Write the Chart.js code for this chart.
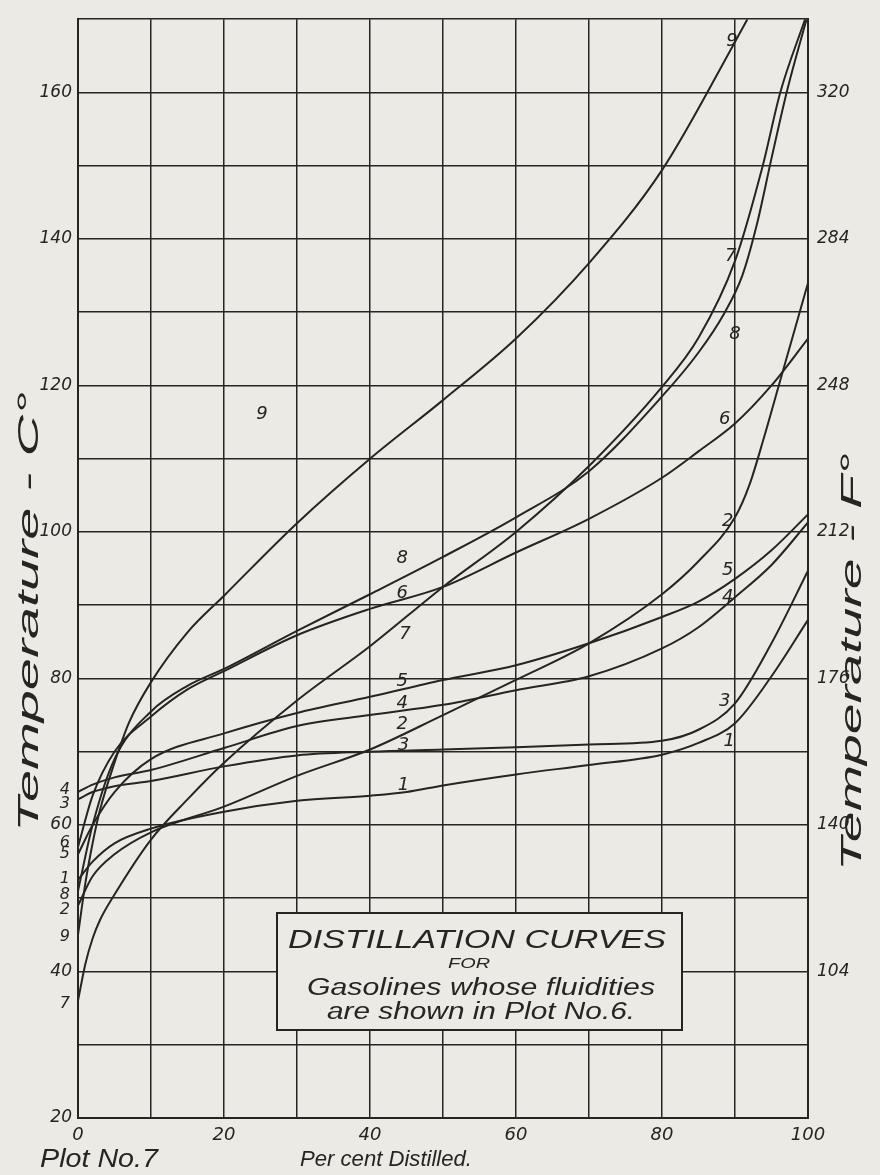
<!DOCTYPE html>
<html>
<head>
<meta charset="utf-8">
<script src="https://cdn.jsdelivr.net/npm/chart.js@4.4.1/dist/chart.umd.min.js"></script>
<style>
  html, body { margin: 0; padding: 0; background: #ebeae4; }
  #wrap { width: 880px; height: 1175px; }
</style>
</head>
<body>
<div id="wrap"><canvas id="chart1" width="880" height="1175"></canvas></div>
<script>
/************* Data *************/
const pct1 = [0, 2, 5, 10, 20, 30, 40, 45, 50, 60, 70, 80, 85, 90, 95, 100];
const temp1 = [52.5, 55, 57.5, 59.5, 61.8, 63.3, 64, 64.5, 65.4, 66.9, 68.2, 69.6, 71.2, 73.9, 80.3, 88];

const pct2 = [0, 2, 5, 10, 20, 30, 40, 50, 60, 70, 80, 85, 90, 92, 94, 96, 98, 100];
const temp2 = [49, 53, 56, 59, 62.5, 66.7, 70.3, 75, 79.8, 84.8, 91.5, 96, 102, 106.5, 113, 120, 127, 134];

const pct3 = [0, 2, 5, 10, 20, 30, 40, 50, 60, 70, 80, 85, 90, 95, 100];
const temp3 = [63.5, 64.5, 65.3, 66, 68, 69.5, 70, 70.3, 70.6, 71, 71.5, 73, 76.6, 84.8, 94.7];

const pct4 = [0, 2, 5, 10, 20, 30, 40, 50, 60, 70, 80, 85, 90, 95, 100];
const temp4 = [64.5, 65.5, 66.5, 67.5, 70.5, 73.5, 75, 76.4, 78.4, 80.3, 84.1, 87, 91.1, 95.5, 101.3];

const pct5 = [0, 2, 5, 10, 20, 30, 40, 50, 60, 70, 80, 85, 90, 95, 100];
const temp5 = [56, 60, 64.5, 69, 72.5, 75.3, 77.5, 79.8, 81.8, 84.8, 88.4, 90.5, 93.6, 97.5, 102.4];

const pct6 = [0, 2, 5, 10, 15, 20, 30, 40, 50, 60, 70, 80, 85, 90, 95, 100];
const temp6 = [57, 64, 70, 74.8, 78.5, 81, 85.9, 89.5, 92.5, 97.2, 101.8, 107.4, 111, 114.8, 120, 126.4];

const pct7 = [0, 1, 2, 3, 5, 10, 15, 20, 30, 40, 50, 60, 70, 80, 85, 90, 93.8, 96.2, 99.6];
const temp7 = [36, 41, 44.5, 47, 50.5, 58, 63.5, 68.5, 77, 84.4, 92.5, 100, 109, 119.8, 126.5, 137, 150, 160, 170];

const pct8 = [0, 2, 5, 10, 15, 20, 30, 40, 50, 60, 70, 80, 85, 88.5, 91, 93, 95, 97.2, 99.8];
const temp8 = [51, 60, 69, 75.5, 79, 81.3, 86.5, 91.5, 96.6, 102, 108.3, 118.5, 124.5, 129.8, 135, 142, 151, 160.5, 170];

const pct9 = [0, 1, 2, 3, 5, 7, 10, 15, 20, 30, 40, 50, 60, 70, 80, 90, 91.7];
const temp9 = [45, 52, 57.5, 62, 68.5, 74, 79.5, 86.3, 91.3, 101.2, 110, 118, 126.4, 136.7, 149.4, 166.9, 170];

const curveNames = ['1', '2', '3', '4', '5', '6', '7', '8', '9'];
const pctSeries = [pct1, pct2, pct3, pct4, pct5, pct6, pct7, pct8, pct9];
const tempSeries = [temp1, temp2, temp3, temp4, temp5, temp6, temp7, temp8, temp9];

// tick labels
const xTickLabels = [0, 20, 40, 60, 80, 100];
const cTickLabels = [20, 40, 60, 80, 100, 120, 140, 160];
const fTickAt = [40, 60, 80, 100, 120, 140, 160];
const fTickLabels = ['104', '140', '176', '212', '248', '284', '320'];

// curve number labels: [name, percent, temp C]
const curveLabels = [
    ['9', 89.6, 167], ['9', 25.2, 116],
    ['7', 89.4, 137.6], ['7', 44.8, 86],
    ['8', 90, 127], ['8', 44.4, 96.4],
    ['6', 88.6, 115.4], ['6', 44.4, 91.6],
    ['5', 89, 94.7], ['5', 44.4, 79.6],
    ['4', 89, 91.1], ['4', 44.4, 76.6],
    ['2', 89, 101.4], ['2', 44.4, 73.8],
    ['3', 88.6, 76.9], ['3', 44.6, 70.9],
    ['1', 89.2, 71.4], ['1', 44.6, 65.4]
];
// starting-point labels left of the axis
const startLabels = [['4', 64.8], ['3', 62.9], ['6', 57.6], ['5', 56], ['1', 52.7], ['8', 50.5], ['2', 48.4], ['9', 44.7], ['7', 35.6]];

/*************Chart*************/
const INK = '#262522';
const PAPER = '#ebeae4';
const FONT = '"DejaVu Sans"';
const THIN = '"Liberation Sans"';

const datasets = curveNames.map(function (name, i) {
    return {
        label: 'Curve ' + name,
        data: pctSeries[i].map(function (p, j) { return { x: p, y: tempSeries[i][j] }; }),
        borderColor: INK,
        borderWidth: 2,
        pointRadius: 0,
        fill: false,
        cubicInterpolationMode: 'monotone'
    };
});

function fitText(ctx, text, x, y, width, font, align) {
    ctx.save();
    ctx.font = font;
    const w = ctx.measureText(text).width;
    const sx = width / w;
    ctx.translate(x, y);
    ctx.scale(sx, 1);
    ctx.textAlign = align || 'center';
    ctx.fillText(text, 0, 0);
    ctx.restore();
}

const paper = {
    id: 'paper',
    beforeDraw: function (chart) {
        const ctx = chart.ctx;
        ctx.save();
        ctx.fillStyle = PAPER;
        ctx.fillRect(0, 0, chart.width, chart.height);
        ctx.restore();
    }
};

const notes = {
    id: 'notes',
    afterDraw: function (chart) {
        const ctx = chart.ctx;
        const xs = chart.scales.x;
        const ys = chart.scales.y;
        ctx.save();
        ctx.fillStyle = INK;
        ctx.textBaseline = 'middle';

        // numbers on curves
        ctx.font = 'italic 18px ' + FONT;
        ctx.textAlign = 'center';
        curveLabels.forEach(function (l) {
            ctx.fillText(l[0], xs.getPixelForValue(l[1]), ys.getPixelForValue(l[2]));
        });

        // starting values left of the axis
        ctx.font = 'italic 16px ' + FONT;
        ctx.textAlign = 'right';
        startLabels.forEach(function (l) {
            ctx.fillText(l[0], 70, ys.getPixelForValue(l[1]));
        });

        // title box
        const bx = 277, by = 913, bw = 405, bh = 117;
        ctx.fillStyle = PAPER;
        ctx.fillRect(bx, by, bw, bh);
        ctx.strokeStyle = INK;
        ctx.lineWidth = 2;
        ctx.strokeRect(bx, by, bw, bh);
        ctx.fillStyle = INK;
        fitText(ctx, 'DISTILLATION CURVES', 477, 941, 378, 'italic 25px ' + THIN);
        fitText(ctx, 'FOR', 469, 964, 42, 'italic 15px ' + THIN);
        fitText(ctx, 'Gasolines whose fluidities', 481, 989, 348, 'italic 23px ' + THIN);
        fitText(ctx, 'are shown in Plot No.6.', 481, 1013, 308, 'italic 23px ' + THIN);

        // axis titles
        ctx.save();
        ctx.translate(30, 612);
        ctx.rotate(-Math.PI / 2);
        fitText(ctx, 'Temperature - C°', 0, 0, 440, 'italic 30px ' + THIN);
        ctx.restore();

        ctx.save();
        ctx.translate(853, 662);
        ctx.rotate(-Math.PI / 2);
        fitText(ctx, 'Temperature - F°', 0, 0, 418, 'italic 30px ' + THIN);
        ctx.restore();

        fitText(ctx, 'Plot No.7', 99, 1160, 118, 'italic 25px ' + THIN);
        fitText(ctx, 'Per cent Distilled.', 386, 1160, 172, 'italic 22px ' + THIN);
        ctx.restore();
    }
};

const chart1 = document.getElementById('chart1');
let distChart = new Chart(chart1, {
    type: 'line',
    data: { datasets: datasets },
    options: {
        responsive: false,
        animation: false,
        events: [],
        layout: { padding: { top: 12, left: 0, right: 0, bottom: 0 } },
        plugins: { legend: { display: false }, tooltip: { enabled: false } },
        scales: {
            x: {
                type: 'linear',
                min: 0,
                max: 100,
                afterFit: function (scale) { scale.height = 57; },
                border: { display: true, color: INK, width: 2 },
                grid: { color: INK, lineWidth: 1.5, drawTicks: false },
                ticks: {
                    stepSize: 10,
                    padding: 7,
                    color: INK,
                    maxRotation: 0,
                    autoSkip: false,
                    font: { family: FONT, style: 'italic', size: 18 },
                    callback: function (v) { return xTickLabels.includes(v) ? String(v) : ''; }
                }
            },
            y: {
                type: 'linear',
                position: 'left',
                min: 20,
                max: 170,
                afterFit: function (scale) { scale.width = 78; },
                border: { display: true, color: INK, width: 2 },
                grid: { color: INK, lineWidth: 1.5, drawTicks: false },
                ticks: {
                    stepSize: 10,
                    padding: 6,
                    color: INK,
                    autoSkip: false,
                    font: { family: FONT, style: 'italic', size: 17 },
                    callback: function (v) { return cTickLabels.includes(v) ? String(v) : ''; }
                }
            },
            yF: {
                type: 'linear',
                position: 'right',
                min: 20,
                max: 170,
                afterFit: function (scale) { scale.width = 72; },
                border: { display: true, color: INK, width: 2 },
                grid: { display: false, drawTicks: false },
                ticks: {
                    stepSize: 10,
                    padding: 9,
                    color: INK,
                    autoSkip: false,
                    font: { family: FONT, style: 'italic', size: 17 },
                    callback: function (v) {
                        const i = fTickAt.indexOf(v);
                        return i >= 0 ? fTickLabels[i] : '';
                    }
                }
            }
        }
    },
    plugins: [paper, notes]
});
</script>
</body>
</html>
